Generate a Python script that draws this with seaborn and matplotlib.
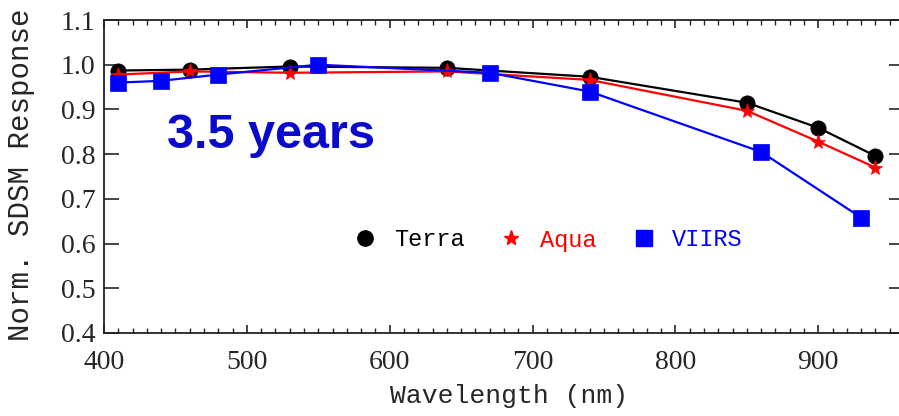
import matplotlib
matplotlib.use("Agg")
import matplotlib.pyplot as plt
from matplotlib.lines import Line2D
from matplotlib.ticker import MultipleLocator
import numpy as np
import pandas as pd
import seaborn as sns

# Normalized SDSM response after 3.5 years on orbit
terra_wl = [410, 460, 530, 640, 740, 850, 900, 940]
terra_resp = [0.987, 0.989, 0.996, 0.993, 0.973, 0.915, 0.859, 0.796]

aqua_wl = [410, 460, 530, 640, 740, 850, 900, 940]
aqua_resp = [0.978, 0.985, 0.982, 0.985, 0.966, 0.897, 0.828, 0.770]

viirs_wl = [410, 440, 480, 550, 670, 740, 860, 930]
viirs_resp = [0.960, 0.964, 0.978, 1.000, 0.982, 0.940, 0.805, 0.658]

sensors = ["Terra", "Aqua", "VIIRS"]
colors = {"Terra": "#000000", "Aqua": "#ff0000", "VIIRS": "#0000ff"}
markers = {"Terra": "o", "Aqua": "*", "VIIRS": "s"}

x_ticks = [400, 500, 600, 700, 800, 900]
y_ticks = [0.4, 0.5, 0.6, 0.7, 0.8, 0.9, 1.0, 1.1]

df = pd.concat([
    pd.DataFrame({"wl": terra_wl, "resp": terra_resp, "sensor": "Terra"}),
    pd.DataFrame({"wl": aqua_wl, "resp": aqua_resp, "sensor": "Aqua"}),
    pd.DataFrame({"wl": viirs_wl, "resp": viirs_resp, "sensor": "VIIRS"}),
], ignore_index=True)

sns.set_style("ticks")
plt.rcParams["font.family"] = ["Liberation Serif", "DejaVu Serif"]

W, H = 899, 416
fig = plt.figure(figsize=(W / 100, H / 100), dpi=100)
ax = fig.add_axes([104 / W, (H - 333) / H, 800 / W, 313 / H])

sns.lineplot(
    data=df, x="wl", y="resp", hue="sensor", style="sensor",
    hue_order=sensors, style_order=sensors,
    palette=colors, markers=markers, dashes=False,
    markersize=11, markeredgewidth=0.5, linewidth=1.6,
    estimator=None, sort=True, legend=False, ax=ax,
)
for line in ax.get_lines():
    line.set_markeredgecolor(line.get_color())

ax.set_xlim(400, 960)
ax.set_ylim(0.4, 1.1)
ax.set_xticks(x_ticks)
ax.set_xticklabels([str(v) for v in x_ticks])
ax.xaxis.set_minor_locator(MultipleLocator(10))
ax.set_yticks(y_ticks)
ax.set_yticklabels([f"{v:.1f}" for v in y_ticks])

ax.tick_params(axis="x", which="major", direction="in", length=6, width=1.2,
               top=True, bottom=True, labelsize=20, pad=12)
ax.tick_params(axis="x", which="minor", direction="in", length=3.5, width=1.0,
               top=True, bottom=True)
ax.tick_params(axis="y", which="major", direction="in", length=11, width=1.2,
               left=True, right=True, labelsize=20, pad=6)
for sp in ax.spines.values():
    sp.set_linewidth(1.3)
    sp.set_color("#222222")

ax.set_xlabel("Wavelength (nm)", fontsize=19, family=["Liberation Mono"])
ax.xaxis.set_label_coords((509 - 104) / 800, (333 - 384) / 313)
ax.set_ylabel("Norm. SDSM Response", fontsize=21, family=["Liberation Mono"])
ax.yaxis.set_label_coords((35 - 104) / 800, (333 - 175) / 313)

ax.text((167 - 104) / 800, (333 - 148) / 313, "3.5 years", transform=ax.transAxes,
        ha="left", va="baseline", fontsize=35, fontweight="bold",
        color="#0a0acc", family=["Liberation Sans"])

handles = [
    Line2D([], [], linestyle="none", marker=markers[s], markersize=11,
           markerfacecolor=colors[s], markeredgecolor=colors[s], color=colors[s])
    for s in sensors
]
leg = ax.legend(handles, sensors, loc="center", bbox_to_anchor=((548 - 104) / 800, (333 - 240) / 313),
                ncol=3, frameon=False, handlelength=1.0, handletextpad=0.7,
                columnspacing=1.5, labelcolor="markerfacecolor",
                prop={"family": "Liberation Mono", "size": 17})

fig.savefig("out.png", dpi=100)
